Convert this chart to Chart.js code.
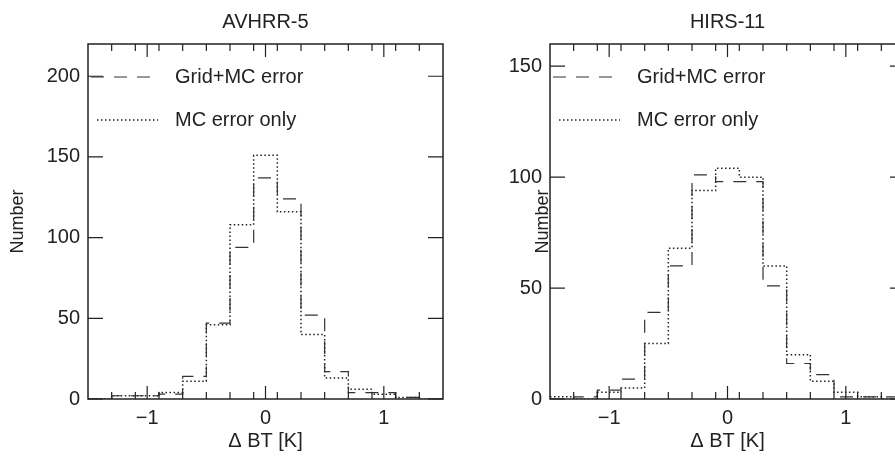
<!DOCTYPE html>
<html>
<head>
<meta charset="utf-8">
<script src="https://cdn.jsdelivr.net/npm/chart.js@4"></script>
<style>
  html, body { margin: 0; padding: 0; background: #fff; overflow: hidden; }
  #wrap { position: relative; width: 895px; height: 459px; overflow: hidden; }
  canvas { position: absolute; top: 0; }
  #avhrr { left: 0; }
  #hirs { left: 462px; }
</style>
</head>
<body>
<div id="wrap">
  <canvas id="avhrr" width="470" height="459"></canvas>
  <canvas id="hirs" width="470" height="459"></canvas>
</div>
<script>
// histogram bin edges, delta BT [K]
const binEdges = [-1.5, -1.3, -1.1, -0.9, -0.7, -0.5, -0.3, -0.1, 0.1, 0.3, 0.5, 0.7, 0.9, 1.1, 1.3, 1.5];

// AVHRR-5 counts per bin
const avhrrGridMc = [0, 2, 2, 3, 14, 47, 94, 137, 124, 52, 17, 4, 4, 1, 0];
const avhrrMcOnly = [0, 2, 2, 4, 11, 46, 108, 151, 116, 40, 13, 6, 3, 1, 0];

// HIRS-11 counts per bin
const hirsGridMc = [0, 1, 4, 9, 39, 60, 101, 98, 98, 51, 16, 11, 1, 1, 1];
const hirsMcOnly = [1, 0, 3, 5, 25, 68, 94, 104, 100, 60, 20, 8, 3, 1, 0];

// axis ticks
const xMajorTicks = [-1, 0, 1];
const xMinorTicks = [-1.3, -1.1, -0.9, -0.7, -0.5, -0.3, -0.1, 0.1, 0.3, 0.5, 0.7, 0.9, 1.1, 1.3];
const avhrrYTicks = [0, 50, 100, 150, 200];
const hirsYTicks = [0, 50, 100, 150];

const seriesLabels = ['Grid+MC error', 'MC error only'];

const FONT = 20;
Chart.defaults.font.family = '"Liberation Sans", Arial, Helvetica, sans-serif';
Chart.defaults.font.size = FONT;
Chart.defaults.color = '#222';

// one point per bin edge, last edge repeats the last count
function toSteps(counts) {
    return binEdges.map((e, i) => ({ x: e, y: counts[Math.min(i, counts.length - 1)] }));
}

// box around the plot with inward ticks on all four sides
const framePlugin = {
    id: 'frame',
    afterDatasetsDraw(chart) {
        const { ctx, chartArea: a, scales } = chart;
        ctx.save();
        ctx.strokeStyle = '#222';
        ctx.lineWidth = 1.2;
        ctx.beginPath();
        xMinorTicks.forEach(v => {
            const px = scales.x.getPixelForValue(v);
            ctx.moveTo(px, a.bottom); ctx.lineTo(px, a.bottom - 7);
            ctx.moveTo(px, a.top); ctx.lineTo(px, a.top + 7);
        });
        xMajorTicks.forEach(v => {
            const px = scales.x.getPixelForValue(v);
            ctx.moveTo(px, a.bottom); ctx.lineTo(px, a.bottom - 13);
            ctx.moveTo(px, a.top); ctx.lineTo(px, a.top + 13);
        });
        scales.y.ticks.forEach(t => {
            const py = scales.y.getPixelForValue(t.value);
            ctx.moveTo(a.left, py); ctx.lineTo(a.left + 15, py);
            ctx.moveTo(a.right, py); ctx.lineTo(a.right - 15, py);
        });
        ctx.stroke();
        ctx.lineWidth = 1.5;
        ctx.strokeRect(a.left, a.top, a.right - a.left, a.bottom - a.top);
        ctx.restore();
    }
};

// legend drawn inside the plot, top left
const insideLegend = {
    id: 'insideLegend',
    afterDraw(chart) {
        const { ctx, chartArea: a } = chart;
        const rows = [33, 76];
        ctx.save();
        ctx.font = FONT + 'px "Liberation Sans", Arial, sans-serif';
        ctx.textBaseline = 'middle';
        chart.data.datasets.forEach((ds, i) => {
            const yy = a.top + rows[i];
            ctx.strokeStyle = ds.borderColor;
            ctx.lineWidth = ds.borderWidth;
            ctx.setLineDash(ds.borderDash);
            ctx.beginPath();
            ctx.moveTo(a.left + (i === 0 ? 3 : 9), yy);
            ctx.lineTo(a.left + 70, yy);
            ctx.stroke();
            ctx.setLineDash([]);
            ctx.fillStyle = '#222';
            ctx.fillText(ds.label, a.left + 87, yy);
        });
        ctx.restore();
    }
};

function makeChart(id, title, gridMc, mcOnly, yMax, yTicks, yTitlePad) {
    const ctx = document.getElementById(id).getContext('2d');
    return new Chart(ctx, {
        type: 'line',
        data: {
            datasets: [{
                label: seriesLabels[0],
                data: toSteps(gridMc),
                stepped: 'before',
                borderColor: '#333',
                borderWidth: 1.2,
                borderDash: [13, 10],
                pointRadius: 0,
                fill: false
            }, {
                label: seriesLabels[1],
                data: toSteps(mcOnly),
                stepped: 'before',
                borderColor: '#222',
                borderWidth: 1.5,
                borderDash: [1.5, 2.5],
                pointRadius: 0,
                fill: false
            }]
        },
        options: {
            responsive: false,
            animation: false,
            layout: { padding: { left: 0, right: 27, top: 0, bottom: 0 } },
            plugins: {
                legend: { display: false },
                tooltip: { enabled: false },
                title: {
                    display: true,
                    text: title,
                    fullSize: false,
                    color: '#222',
                    font: { size: FONT, weight: 'normal' },
                    padding: { top: 10, bottom: 10 }
                }
            },
            scales: {
                x: {
                    type: 'linear',
                    min: -1.5,
                    max: 1.5,
                    afterFit(scale) { scale.height = 60; },
                    afterBuildTicks(scale) { scale.ticks = xMajorTicks.map(v => ({ value: v })); },
                    grid: { display: false, drawTicks: false },
                    border: { display: false },
                    ticks: {
                        padding: 7,
                        maxRotation: 0,
                        autoSkip: false,
                        callback: v => v < 0 ? '\u2212' + Math.abs(v) : String(v)
                    },
                    title: { display: true, text: '\u0394 BT [K]', padding: { top: 0, bottom: 6 } }
                },
                y: {
                    min: 0,
                    max: yMax,
                    afterFit(scale) { scale.width = 88; },
                    afterBuildTicks(scale) { scale.ticks = yTicks.map(v => ({ value: v })); },
                    grid: { display: false, drawTicks: false },
                    border: { display: false },
                    ticks: { padding: 8 },
                    title: { display: true, text: 'Number', font: { size: 18 }, padding: { top: yTitlePad, bottom: 0 } }
                }
            }
        },
        plugins: [framePlugin, insideLegend]
    });
}

makeChart('avhrr', 'AVHRR-5', avhrrGridMc, avhrrMcOnly, 220, avhrrYTicks, 7);
makeChart('hirs', 'HIRS-11', hirsGridMc, hirsMcOnly, 160, hirsYTicks, 70);
</script>
</body>
</html>
